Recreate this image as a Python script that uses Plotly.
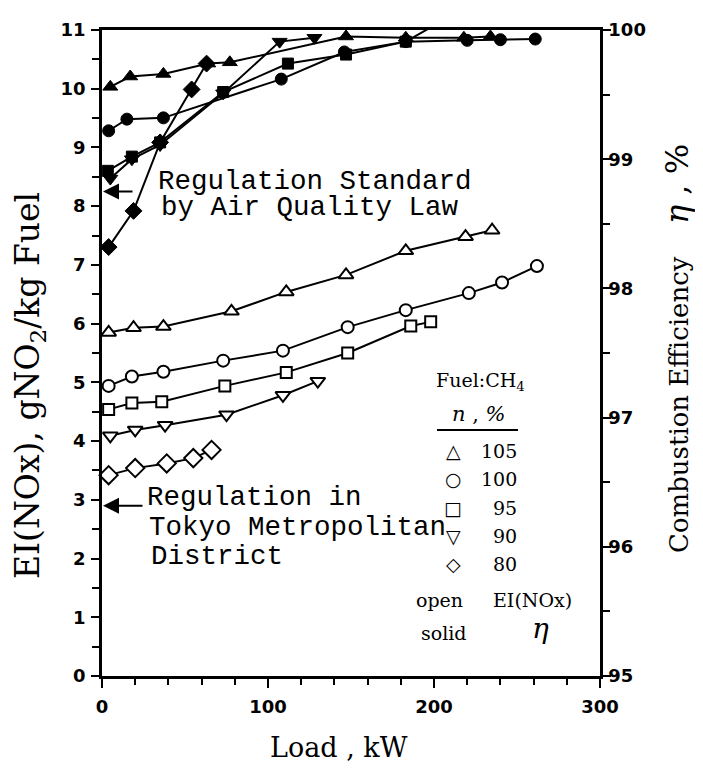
import plotly.graph_objects as go

# ---------------- data ----------------
# open symbols: EI(NOx), g NO2 / kg fuel  (left axis)
load_105_open = [4, 19, 37, 78, 111, 147, 183, 219, 235]
ei_105 = [5.85, 5.93, 5.95, 6.21, 6.54, 6.83, 7.24, 7.48, 7.59]

load_100_open = [4, 18, 37, 73, 109, 148, 183, 221, 241, 262]
ei_100 = [4.94, 5.10, 5.18, 5.37, 5.54, 5.94, 6.23, 6.52, 6.70, 6.98]

load_95_open = [4, 18, 36, 74, 111, 148, 186, 198]
ei_95 = [4.54, 4.65, 4.67, 4.94, 5.17, 5.50, 5.96, 6.03]

load_90_open = [5, 20, 38, 75, 109, 130]
ei_90 = [4.09, 4.19, 4.27, 4.45, 4.78, 5.02]

load_80_open = [4, 20, 39, 55, 66]
ei_80 = [3.42, 3.54, 3.62, 3.71, 3.85]

# solid symbols: combustion efficiency eta, %  (right axis)
load_105_solid = [5, 17, 37, 64, 77, 147, 183, 218, 234]
eta_105 = [99.56, 99.64, 99.66, 99.74, 99.75, 99.95, 99.94, 99.94, 99.95]

load_100_solid = [4, 15, 37, 108, 146, 183, 220, 240, 261]
eta_100 = [99.22, 99.31, 99.32, 99.62, 99.83, 99.91, 99.92, 99.925, 99.93]

load_95_solid = [3.5, 18, 35, 73, 112, 147, 183, 198]
eta_95 = [98.91, 99.02, 99.13, 99.52, 99.74, 99.81, 99.91, 100.02]

load_90_solid = [5, 18, 35, 73, 107, 128]
eta_90 = [98.85, 99.00, 99.11, 99.51, 99.91, 99.94]

load_80_solid = [4, 19, 35, 54, 63]
eta_80 = [98.32, 98.60, 99.13, 99.54, 99.74]

# regulation levels (EI(NOx))
reg_air_quality = 8.25
reg_tokyo = 2.9

legend_n = ["105", "100", "95", "90", "80"]
legend_sym = ["\u25b3", "\u25cb", "\u25a1", "\u25bd", "\u25c7"]

x_ticks = [0, 100, 200, 300]
y_ticks = list(range(0, 12))
y2_ticks = [95, 96, 97, 98, 99, 100]

# ---------------- layout helpers ----------------
PAGE_OFF = 8                      # default body margin of the html page
FIG_W, FIG_H = 703 - PAGE_OFF, 772 - PAGE_OFF
L, R, T, B = 102, 600, 30, 676    # plot area in window pixels
PW, PH = R - L, B - T


def pp(px, py):
    return (px - L) / PW, (B - py) / PH


SERIF = "DejaVu Serif"
MONO = "Liberation Mono"
SANS = "DejaVu Sans"

fig = go.Figure()

open_series = [
    (load_105_open, ei_105, "triangle-up", 13),
    (load_100_open, ei_100, "circle", 12),
    (load_95_open, ei_95, "square", 11),
    (load_90_open, ei_90, "triangle-down", 13),
    (load_80_open, ei_80, "diamond", 14),
]
for xs, ys, sym, sz in open_series:
    fig.add_trace(go.Scatter(
        x=xs, y=ys, mode="lines+markers", yaxis="y",
        line=dict(color="black", width=2),
        marker=dict(symbol=sym, size=sz, color="white",
                    line=dict(color="black", width=2)),
        showlegend=False, cliponaxis=False))

solid_series = [
    (load_80_solid, eta_80, "diamond", 13),
    (load_90_solid, eta_90, "triangle-down", 13),
    (load_95_solid, eta_95, "square", 11),
    (load_100_solid, eta_100, "circle", 12),
    (load_105_solid, eta_105, "triangle-up", 13),
]
for xs, ys, sym, sz in solid_series:
    fig.add_trace(go.Scatter(
        x=xs, y=ys, mode="lines+markers", yaxis="y2",
        line=dict(color="black", width=2),
        marker=dict(symbol=sym, size=sz, color="black",
                    line=dict(color="black", width=1)),
        showlegend=False, cliponaxis=False))

ann = []


def text(px, py, s, size, family=SERIF, xanchor="center", angle=0, yanchor="middle"):
    x, y = pp(px, py)
    ann.append(dict(x=x, y=y, xref="paper", yref="paper", text=s, showarrow=False,
                    xanchor=xanchor, yanchor=yanchor, textangle=angle,
                    font=dict(family=family, size=size, color="black")))


# regulation notes
text(156, 181, "Regulation Standard", 27.5, MONO, "left")
text(159, 208, "by Air Quality Law", 27.5, MONO, "left")
text(145, 497, "Regulation in", 27.5, MONO, "left")
text(147, 527, "Tokyo Metropolitan", 27.5, MONO, "left")
text(149, 556, "District", 27.5, MONO, "left")
for lvl, dx in [(reg_air_quality, 32), (reg_tokyo, 42)]:
    ann.append(dict(x=0, y=lvl, xref="x", yref="y", ax=dx, ay=0, text="",
                    showarrow=True, arrowhead=2, arrowsize=1.6, arrowwidth=2,
                    arrowcolor="black", standoff=1))

# legend block
text(480, 381, "Fuel:CH<sub>4</sub>", 19)
text(479, 414, "<i>n</i> , <i>%</i>", 21)
row_y = [451, 479, 508, 536, 564]
for sym, n, yy in zip(legend_sym, legend_n, row_y):
    text(453, yy, sym, 19, SANS)
    text(519, yy, n, 19, SERIF, "right")
text(439, 600, "open", 19)
text(532, 600, "EI(NOx)", 19)
text(444, 633, "solid", 19)
text(540, 628, "<i>\u03b7</i>", 28)

# axis titles
text(30, 386, "EI(NOx), gNO<sub>2</sub>/kg Fuel", 33, SERIF, angle=-90)
text(679, 405, "Combustion Efficiency", 26, SERIF, angle=-90)
text(677, 184, "<i>\u03b7</i> , %", 32, SERIF, angle=-90)
text(339, 747, "Load , kW", 27, SERIF)

tickfont = dict(family=SANS, size=18, color="black", weight="bold")

fig.update_layout(
    width=FIG_W, height=FIG_H,
    margin=dict(l=L - PAGE_OFF, r=FIG_W - (R - PAGE_OFF),
                t=T - PAGE_OFF, b=FIG_H - (B - PAGE_OFF)),
    paper_bgcolor="white", plot_bgcolor="white",
    annotations=ann,
    shapes=[dict(type="line", xref="paper", yref="paper",
                 x0=pp(437, 430)[0], x1=pp(518, 430)[0],
                 y0=pp(437, 430)[1], y1=pp(518, 430)[1],
                 line=dict(color="black", width=2))],
    xaxis=dict(range=[0, 300], tickvals=x_ticks, showgrid=False, zeroline=False,
               showline=True, linecolor="black", linewidth=2.5, mirror=True,
               ticks="outside", ticklen=9, tickwidth=2, tickcolor="black",
               minor=dict(dtick=20, ticks="outside", ticklen=6, tickwidth=1.5,
                          tickcolor="black", showgrid=False),
               tickfont=tickfont, ticklabelstandoff=4),
    yaxis=dict(range=[0, 11], tickvals=y_ticks, showgrid=False, zeroline=False,
               showline=True, linecolor="black", linewidth=2.5,
               ticks="outside", ticklen=8, tickwidth=2, tickcolor="black",
               minor=dict(dtick=0.5, ticks="outside", ticklen=7, tickwidth=1.5,
                          tickcolor="black", showgrid=False),
               tickfont=tickfont, ticklabelstandoff=2),
    yaxis2=dict(range=[95, 100], tickvals=y2_ticks, overlaying="y", side="right",
                showgrid=False, zeroline=False,
                showline=True, linecolor="black", linewidth=2.5,
                ticks="outside", ticklen=8, tickwidth=2, tickcolor="black",
                minor=dict(dtick=0.5, ticks="outside", ticklen=7, tickwidth=1.5,
                           tickcolor="black", showgrid=False),
                tickfont=tickfont, ticklabelstandoff=-6),
)

fig.write_html("out.html")
